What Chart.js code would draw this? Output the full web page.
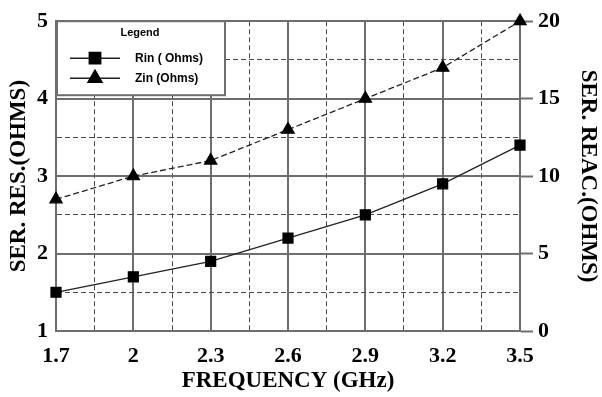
<!DOCTYPE html>
<html>
<head>
<meta charset="utf-8">
<script src="https://cdn.jsdelivr.net/npm/chart.js@4.4.1/dist/chart.umd.min.js"></script>
<style>
  html, body { margin: 0; padding: 0; background: #fff; }
  canvas { display: block; }
</style>
</head>
<body>
<canvas id="chart" width="602" height="397"></canvas>
<script>
// data
const frequencies = [1.7, 2, 2.3, 2.6, 2.9, 3.2, 3.5];
const rinValues = [1.5, 1.7, 1.9, 2.2, 2.5, 2.9, 3.4];
const zinValues = [8.5, 10, 11, 13, 15, 17, 20];
const xTickValues = [1.7, 2, 2.3, 2.6, 2.9, 3.2, 3.5];
const resTickValues = [1, 2, 3, 4, 5];
const reacTickValues = [0, 5, 10, 15, 20];
const seriesLabels = ["Rin ( Ohms)", "Zin (Ohms)"];

Chart.defaults.font.family = '"Liberation Serif", "Times New Roman", serif';
Chart.defaults.color = "#000";

// major ticks plus a dashed minor line half way between each pair
function withMinorTicks(majors) {
  return (scale) => {
    const ticks = [];
    majors.forEach((v, i) => {
      ticks.push({ value: v });
      if (i < majors.length - 1) {
        ticks.push({ value: (v + majors[i + 1]) / 2, minor: true });
      }
    });
    scale.ticks = ticks;
  };
}

const isMinor = (ctx) => ctx.tick && ctx.tick.minor;
const gridColor = (ctx) => (isMinor(ctx) ? "#4a4a4a" : "#6e6e6e");
const gridWidth = (ctx) => (isMinor(ctx) ? 1 : 2);
const gridDash = (ctx) => (isMinor(ctx) ? [5, 3] : []);
const tickLabel = (value, index, ticks) => (ticks[index].minor ? "" : String(value));

const tickFont = { size: 22, weight: "bold" };
const titleFont = { size: 23, weight: "bold" };

// boxed legend in the top-left corner, line - marker - line
const boxLegend = {
  id: "boxLegend",
  afterDatasetsDraw(chart) {
    const ctx = chart.ctx;
    const area = chart.chartArea;
    const x0 = area.left;
    const y0 = area.top;
    const w = 169;
    const h = 74;

    ctx.save();
    ctx.fillStyle = "#fff";
    ctx.fillRect(x0, y0, w, h);
    ctx.strokeStyle = "#6e6e6e";
    ctx.lineWidth = 2;
    ctx.strokeRect(x0 + 1, y0, w - 1, h);

    ctx.fillStyle = "#000";
    ctx.font = 'bold 11px "Liberation Sans"';
    ctx.textAlign = "center";
    ctx.textBaseline = "middle";
    ctx.fillText("Legend", x0 + 84, y0 + 12);

    chart.data.datasets.forEach((ds, i) => {
      const y = y0 + 37 + i * 20;
      ctx.strokeStyle = "#222";
      ctx.lineWidth = 1.5;
      ctx.setLineDash([]);
      ctx.beginPath();
      ctx.moveTo(x0 + 14, y);
      ctx.lineTo(x0 + 64, y);
      ctx.stroke();

      ctx.fillStyle = "#000";
      ctx.strokeStyle = "#000";
      Chart.helpers.drawPoint(
        ctx,
        { pointStyle: ds.pointStyle, radius: 8, borderWidth: 1, rotation: 0 },
        x0 + 39,
        y
      );

      ctx.fillStyle = "#000";
      ctx.font = 'bold 12px "Liberation Sans"';
      ctx.textAlign = "left";
      ctx.fillText(ds.label, x0 + 79, y);
    });
    ctx.restore();
  },
};

new Chart(document.getElementById("chart"), {
  type: "line",
  data: {
    datasets: [
      {
        label: seriesLabels[0],
        data: frequencies.map((f, i) => ({ x: f, y: rinValues[i] })),
        yAxisID: "y",
        borderColor: "#222",
        borderWidth: 1.3,
        pointStyle: "rect",
        pointRadius: 7,
        pointBackgroundColor: "#000",
        pointBorderColor: "#000",
        tension: 0,
        clip: false,
      },
      {
        label: seriesLabels[1],
        data: frequencies.map((f, i) => ({ x: f, y: zinValues[i] })),
        yAxisID: "y1",
        borderColor: "#222",
        borderWidth: 1.3,
        borderDash: [6, 3],
        pointStyle: "triangle",
        pointRadius: 7,
        pointBackgroundColor: "#000",
        pointBorderColor: "#000",
        tension: 0,
        clip: false,
      },
    ],
  },
  options: {
    responsive: false,
    animation: false,
    layout: { padding: { top: 20, left: 0, right: 0, bottom: 0 } },
    plugins: {
      legend: { display: false },
      title: { display: false },
      tooltip: { enabled: false },
    },
    scales: {
      x: {
        type: "linear",
        min: 1.7,
        max: 3.5,
        afterBuildTicks: withMinorTicks(xTickValues),
        afterFit: (s) => { s.height = 66; },
        grid: { color: gridColor, lineWidth: gridWidth, drawTicks: false },
        border: { display: true, color: "#6e6e6e", width: 2, dash: gridDash },
        ticks: {
          autoSkip: false,
          maxRotation: 0,
          padding: 12,
          font: tickFont,
          callback: tickLabel,
        },
        title: {
          display: true,
          text: "FREQUENCY (GHz)",
          font: titleFont,
          padding: { top: 0, bottom: 2 },
        },
      },
      y: {
        type: "linear",
        position: "left",
        min: 1,
        max: 5,
        afterBuildTicks: withMinorTicks(resTickValues),
        afterFit: (s) => { s.width = 56; },
        grid: { color: gridColor, lineWidth: gridWidth, drawTicks: false },
        border: { display: true, color: "#6e6e6e", width: 2, dash: gridDash },
        ticks: { padding: 8, font: tickFont, callback: tickLabel },
        title: {
          display: true,
          text: "SER. RES.(OHMS)",
          font: titleFont,
          padding: { top: 5, bottom: 0 },
        },
      },
      y1: {
        type: "linear",
        position: "right",
        min: 0,
        max: 20,
        afterBuildTicks: withMinorTicks(reacTickValues),
        afterFit: (s) => { s.width = 82; },
        grid: {
          drawOnChartArea: false,
          drawTicks: true,
          tickLength: 13,
          tickWidth: 2,
          tickColor: (ctx) => (isMinor(ctx) ? "rgba(0,0,0,0)" : "#6e6e6e"),
        },
        border: { display: true, color: "#6e6e6e", width: 2 },
        ticks: { padding: 5, font: tickFont, callback: tickLabel },
        title: {
          display: true,
          text: "SER. REAC.(OHMS)",
          font: titleFont,
          padding: { top: 0, bottom: 0 },
        },
      },
    },
  },
  plugins: [boxLegend],
});
</script>
</body>
</html>
